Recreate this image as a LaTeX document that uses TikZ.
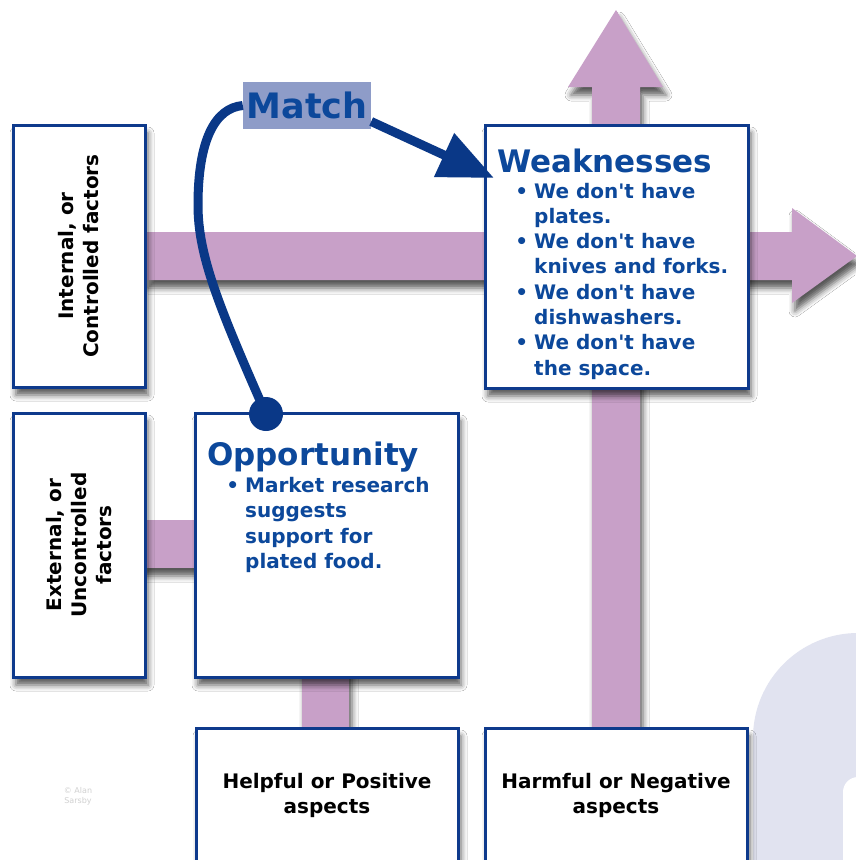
\documentclass[tikz,border=0pt]{standalone}
\usepackage{fontspec}
\setmainfont{DejaVu Sans}
\usetikzlibrary{shadows.blur,arrows.meta,calc}
\definecolor{boxblue}{RGB}{14,58,140}
\definecolor{textblue}{RGB}{12,72,155}
\definecolor{navy}{RGB}{10,56,135}
\definecolor{lilac}{RGB}{200,160,200}
\definecolor{matchbg}{RGB}{142,156,200}
\definecolor{lav}{RGB}{225,227,240}
\begin{document}
\begin{tikzpicture}[x=1pt,y=-1pt,
  shad/.style={blur shadow={shadow xshift=3pt, shadow yshift=-8pt, shadow blur radius=6pt, shadow opacity=65}},
  box/.style={shad, draw=boxblue, line width=3pt, fill=white, rectangle, inner sep=0pt},
  bar/.style={shad, fill=lilac},
  graylabel/.style={font=\bfseries\fontsize{20}{25}\selectfont, align=center, text=black, inner sep=0pt},
  titletext/.style={font=\bfseries\fontsize{31}{31}\selectfont, text=textblue, inner sep=0pt, anchor=base west},
  itemtext/.style={font=\bfseries\fontsize{20}{25}\selectfont, text=textblue, inner sep=0pt, anchor=base west},
  conn/.style={draw=navy, line width=9pt}
]
\useasboundingbox (0,0) rectangle (855,860);
\fill[white] (0,0) rectangle (855,860);
% background arch
\fill[lav] (753,870) -- (753,738) arc[start angle=180, end angle=270, radius=105] -- (870,633) -- (870,870) -- cycle;
\fill[white] (843,870) -- (843,792) arc[start angle=180, end angle=270, radius=15] -- (870,777) -- (870,870) -- cycle;
% bars
\path[bar] (145,232) -- (792,232) -- (792,208) -- (857,256) -- (792,303) -- (792,280) -- (145,280) -- cycle;
\path[bar] (592,728) -- (592,87) -- (568,87) -- (616,10) -- (663,87) -- (640,87) -- (640,728) -- cycle;
\path[bar] (140,520) rectangle (200,568);
\path[bar] (302,670) rectangle (349,732);
% boxes
\node[box, minimum width=132pt, minimum height=262pt] (internal) at (79,256) {};
\node[box, minimum width=132pt, minimum height=264pt] (external) at (79,545) {};
\node[box, minimum width=263pt, minimum height=264pt] (opp) at (326.5,545) {};
\node[box, minimum width=263pt, minimum height=263pt] (weak) at (616.5,256.5) {};
\node[box, minimum width=262pt, minimum height=134pt, align=center, font=\bfseries\fontsize{20}{25}\selectfont, text=black] (helpful) at (327,795) {Helpful or Positive\\aspects};
\node[box, minimum width=262pt, minimum height=134pt, align=center, font=\bfseries\fontsize{20}{25}\selectfont, text=black] (harmful) at (616,795) {Harmful or Negative\\aspects};
% side labels
\node[graylabel, rotate=90] (intlabel) at (internal.center) {Internal, or\\Controlled factors};
\node[graylabel, rotate=90] (extlabel) at (external.center) {External, or\\Uncontrolled\\factors};
% weaknesses text
\node[titletext] (wtitle) at (497,172) {Weaknesses};
\node[itemtext] (w1) at (534,198) {\llap{•\hspace{6pt}}We don\textquotesingle t have};
\node[itemtext] (w2) at (534,223.3) {plates.};
\node[itemtext] (w3) at (534,248.6) {\llap{•\hspace{6pt}}We don\textquotesingle t have};
\node[itemtext] (w4) at (534,273.9) {knives and forks.};
\node[itemtext] (w5) at (534,299.2) {\llap{•\hspace{6pt}}We don\textquotesingle t have};
\node[itemtext] (w6) at (534,324.5) {dishwashers.};
\node[itemtext] (w7) at (534,349.8) {\llap{•\hspace{6pt}}We don\textquotesingle t have};
\node[itemtext] (w8) at (534,375.1) {the space.};
% opportunity text
\node[titletext] (otitle) at (207,465) {Opportunity};
\node[itemtext] (o1) at (245,492) {\llap{•\hspace{6pt}}Market research};
\node[itemtext] (o2) at (245,517.5) {suggests};
\node[itemtext] (o3) at (245,543) {support for};
\node[itemtext] (o4) at (245,568.5) {plated food.};
% copyright
\node[font=\fontsize{8}{10}\selectfont, text=black!18, align=center, inner sep=0pt] (copy) at (78,796) {© Alan\\Sarsby};
% match label and connectors
\node[fill=matchbg, minimum width=128pt, minimum height=47pt, inner sep=0pt, text=textblue, font=\bfseries\fontsize{35}{35}\selectfont] (match) at (307,105.5) {Match};
\node[circle, fill=navy, minimum size=34pt, inner sep=0pt] (dot) at (266,414) {};
\coordinate (bend) at (198,205);
\draw[conn] (dot.center) .. controls (218,305) and (198,255) .. (bend) .. controls (198,140) and (215,108) .. (match.west);
\coordinate (mstart) at ($(match.east)+(0,16)$);
\coordinate (mtip) at (494,178);
\draw[conn, -{Triangle[length=55pt,width=46pt]}] (mstart) -- (mtip);
\end{tikzpicture}
\end{document}
